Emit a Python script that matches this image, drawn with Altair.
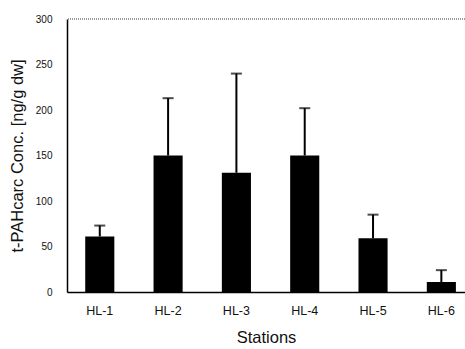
import altair as alt
import pandas as pd

stations = ["HL-1", "HL-2", "HL-3", "HL-4", "HL-5", "HL-6"]
means = [61, 150, 131, 150, 59, 11]
uppers = [73, 213, 240, 202, 85, 24]

df = pd.DataFrame({"station": stations, "mean": means, "upper": uppers})

FONT = "Liberation Sans"

x = alt.X(
    "station:N",
    sort=stations,
    scale=alt.Scale(paddingInner=0.574, paddingOuter=0.2, align=0.667),
    axis=alt.Axis(
        title="Stations",
        labelAngle=0,
        labelFont=FONT,
        labelFontSize=12.5,
        labelColor="#111",
        labelPadding=12,
        ticks=False,
        domainColor="#000",
        domainWidth=1.5,
        titleFont=FONT,
        titleFontSize=16.5,
        titleFontWeight="normal",
        titleColor="#111",
        titlePadding=13,
    ),
)

yscale = alt.Scale(domain=[0, 300], nice=False)

bars = alt.Chart(df).mark_bar(color="#000").encode(
    x=x,
    y=alt.Y(
        "mean:Q",
        scale=yscale,
        axis=alt.Axis(
            title="t-PAHcarc Conc. [ng/g dw]",
            values=[0, 50, 100, 150, 200, 250, 300],
            grid=False,
            ticks=False,
            labelFont=FONT,
            labelFontSize=10,
            labelColor="#111",
            labelPadding=15,
            domainColor="#000",
            domainWidth=1.5,
            titleFont=FONT,
            titleFontSize=16.5,
            titleFontWeight="normal",
            titleColor="#111",
            titlePadding=10,
        ),
    ),
)

err = alt.Chart(df).mark_rule(color="#000", strokeWidth=2).encode(
    x=alt.X("station:N", sort=stations),
    y=alt.Y("mean:Q", scale=yscale),
    y2="upper:Q",
)

caps = alt.Chart(df).mark_tick(color="#000", size=11, thickness=2, orient="horizontal").encode(
    x=alt.X("station:N", sort=stations),
    y=alt.Y("upper:Q", scale=yscale),
)

top = alt.Chart(df).mark_rule(color="#999", strokeWidth=1, strokeDash=[1, 1]).encode(
    y=alt.datum(300),
)

chart = (
    alt.layer(bars, err, caps, top)
    .properties(
        width=398,
        height=273,
        padding={"left": 67, "top": 19, "right": 0, "bottom": 57},
        autosize=alt.AutoSizeParams(type="none"),
        background="white",
    )
    .configure_view(stroke=None)
)

chart.save("out.html", embed_options={"renderer": "svg", "actions": False})
